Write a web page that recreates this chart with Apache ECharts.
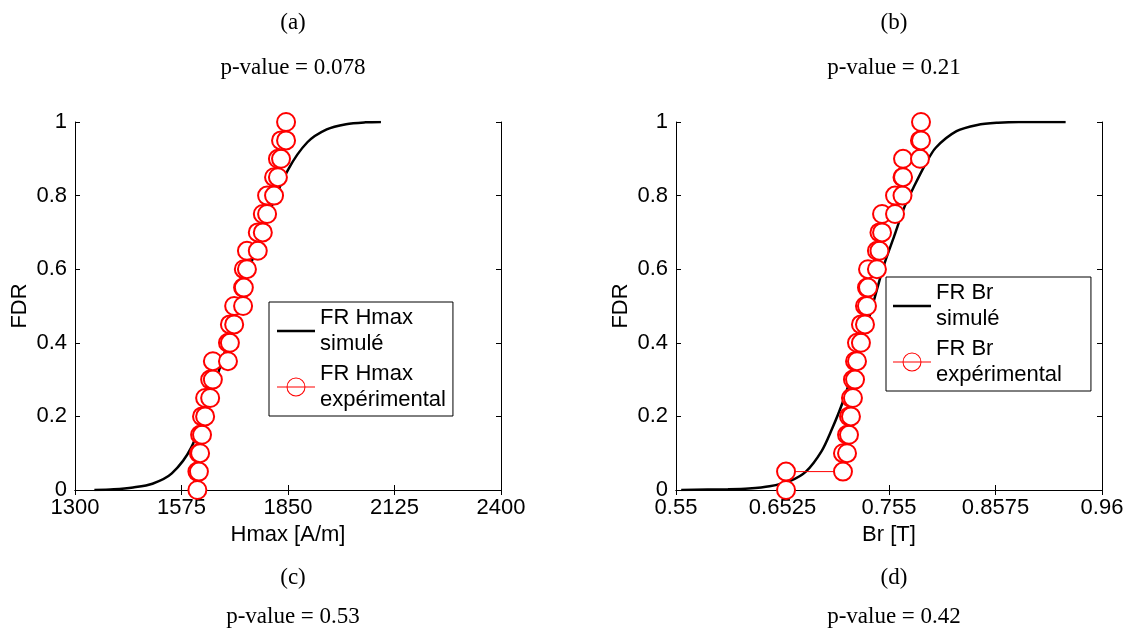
<!DOCTYPE html>
<html>
<head>
<meta charset="utf-8">
<script src="https://cdn.jsdelivr.net/npm/echarts@6/dist/echarts.min.js"></script>
<style>html,body{margin:0;padding:0;background:#fff}#c{width:1131px;height:634px}</style>
</head>
<body>
<div id="c"></div>
<script>
// ---- data ----
const fdrLevels = [0,0.05,0.1,0.15,0.2,0.25,0.3,0.35,0.4,0.45,0.5,0.55,0.6,0.65,0.7,0.75,0.8,0.85,0.9,0.95,1];
const hmaxSamples = [1616,1620,1623,1628,1636,1649,1656,1695,1700,1711,1734,1736,1744,1772,1785,1796,1814,1824,1832,1845];
const brSamples = [0.6559,0.7107,0.7146,0.7165,0.7184,0.7203,0.7223,0.7242,0.7280,0.7319,0.7338,0.7348,0.7434,0.7458,0.7483,0.7608,0.7680,0.7685,0.7848,0.7858];
const simHmaxX = [1350,1400,1450,1500,1550,1600,1650,1700,1750,1800,1850,1900,1950,2000,2050,2090];
const simHmaxY = [0,0.002,0.007,0.017,0.045,0.115,0.255,0.42,0.60,0.75,0.87,0.945,0.98,0.994,0.999,1];
const simBrX = [0.555,0.60,0.62,0.64,0.66,0.675,0.69,0.70,0.71,0.72,0.73,0.74,0.75,0.76,0.77,0.78,0.79,0.80,0.82,0.84,0.86,0.88,0.925];
const simBrY = [0,0.002,0.004,0.01,0.025,0.05,0.105,0.165,0.235,0.32,0.41,0.51,0.61,0.69,0.77,0.83,0.885,0.93,0.975,0.992,0.998,1,1];
const hmaxTicks = [1300,1575,1850,2125,2400];
const brTicks = [0.55,0.6525,0.755,0.8575,0.96];
const yTicks = [0,0.2,0.4,0.6,0.8,1];
const topTitles = ['(a)','p-value = 0.078','(b)','p-value = 0.21'];
const bottomTitles = ['(c)','p-value = 0.53','(d)','p-value = 0.42'];

function stairVertices(xs, levels){
  const pts=[[xs[0],levels[0]]];
  for(let i=0;i<xs.length;i++){
    pts.push([xs[i],levels[i+1]]);
    if(i+1<xs.length) pts.push([xs[i+1],levels[i+1]]);
  }
  return pts;
}
function zip(a,b){return a.map((v,i)=>[v,b[i]]);}

const SANS='Liberation Sans', SERIF='Liberation Serif';
const grids=[{left:75,top:122,width:426,height:368},{left:676,top:122,width:426,height:368}];
const axisLine={show:true,lineStyle:{color:'#000',width:1}};
function xAx(g,min,max,ticks,name,pos){
  const main = pos==='bottom';
  return {gridIndex:g,type:'value',min:min,max:max,position:pos,
    axisLine:axisLine,splitLine:{show:false},
    axisTick:{show:true,inside:true,length:5,customValues:ticks,lineStyle:{color:'#000'}},
    axisLabel:{show:main,customValues:ticks,margin:7,color:'#000',fontFamily:SANS,fontSize:22,
      formatter:function(v){return String(v);}},
    name:main?name:'',nameLocation:'middle',nameGap:32,
    nameTextStyle:{color:'#000',fontFamily:SANS,fontSize:22}};
}
function yAx(g,pos){
  const main = pos==='left';
  return {gridIndex:g,type:'value',min:0,max:1,interval:0.2,position:pos,
    axisLine:axisLine,splitLine:{show:false},
    axisTick:{show:true,inside:true,length:5,lineStyle:{color:'#000'}},
    axisLabel:{show:main,margin:8,color:'#000',fontFamily:SANS,fontSize:22,
      formatter:function(v){return String(v);}},
    name:main?'FDR':'',nameLocation:'middle',nameGap:44,
    nameTextStyle:{color:'#000',fontFamily:SANS,fontSize:22}};
}
function title(text,cx,cy){
  return {text:text,left:cx,top:cy-14,textAlign:'center',
    textStyle:{fontFamily:SERIF,fontSize:23,fontWeight:'normal',color:'#000',lineHeight:28}};
}
// legend icons (38 x 22 box): a plain line, and a line with an open circle
const BOX='M0,0L0.01,0L0.01,0.01Z M37.99,21.99L38,21.99L38,22Z ';
const simIcon='path://'+BOX+'M0,9.8L38,9.8L38,12.2L0,12.2Z';
const expIcon='path://'+BOX+'M0,10.5L38,10.5L38,11.5L0,11.5Z M28.5,11A9.5,9.5 0 1 1 9.5,11A9.5,9.5 0 1 1 28.5,11Z M27.5,11A8.5,8.5 0 1 0 10.5,11A8.5,8.5 0 1 0 27.5,11Z';
function legend(names,left,top,pad){
  return {data:[
      {name:names[0],icon:simIcon,itemStyle:{color:'#000',borderWidth:0}},
      {name:names[1],icon:expIcon,itemStyle:{color:'#ff0000',borderWidth:0}}
    ],
    orient:'vertical',left:left,top:top,padding:pad,itemGap:4,
    itemWidth:38,itemHeight:22,borderColor:'#000',borderWidth:1,backgroundColor:'#fff',borderRadius:0,
    selectedMode:false,
    textStyle:{fontFamily:SANS,fontSize:22,color:'#000',lineHeight:26}};
}
const simStyle={type:'line',smooth:0.3,symbol:'none',lineStyle:{color:'#000',width:2.5},itemStyle:{color:'#000'},z:2};
const expStyle={type:'line',symbol:'emptyCircle',symbolSize:18,clip:false,
  lineStyle:{color:'#ff0000',width:1},itemStyle:{color:'#ff0000',borderColor:'#ff0000',borderWidth:1},z:3};

const chart=echarts.init(document.getElementById('c'),null,{renderer:'canvas'});
chart.setOption({
  animation:false,
  backgroundColor:'#fff',
  title:[title(topTitles[0],288,18),title(topTitles[1],288,63),title(topTitles[2],889,18),title(topTitles[3],889,63),
         title(bottomTitles[0],288,573),title(bottomTitles[1],288,612),title(bottomTitles[2],889,573),title(bottomTitles[3],889,612)],
  grid:grids,
  xAxis:[xAx(0,1300,2400,hmaxTicks,'Hmax [A/m]','bottom'),xAx(0,1300,2400,hmaxTicks,'','top'),
         xAx(1,0.55,0.96,brTicks,'Br [T]','bottom'),xAx(1,0.55,0.96,brTicks,'','top')],
  yAxis:[yAx(0,'left'),yAx(0,'right'),yAx(1,'left'),yAx(1,'right')],
  legend:[legend(['FR Hmax\nsimulé','FR Hmax\nexpérimental'],269,302,[3,7,3,8]),
          legend(['FR Br\nsimulé','FR Br\nexpérimental'],886,277,[3,29,3,7])],
  series:[
    Object.assign({name:'FR Hmax\nsimulé',xAxisIndex:0,yAxisIndex:0,data:zip(simHmaxX,simHmaxY)},simStyle),
    Object.assign({name:'FR Hmax\nexpérimental',xAxisIndex:0,yAxisIndex:0,data:stairVertices(hmaxSamples,fdrLevels)},expStyle),
    Object.assign({name:'FR Br\nsimulé',xAxisIndex:2,yAxisIndex:2,data:zip(simBrX,simBrY)},simStyle),
    Object.assign({name:'FR Br\nexpérimental',xAxisIndex:2,yAxisIndex:2,data:stairVertices(brSamples,fdrLevels)},expStyle)
  ]
});
</script>
</body>
</html>
